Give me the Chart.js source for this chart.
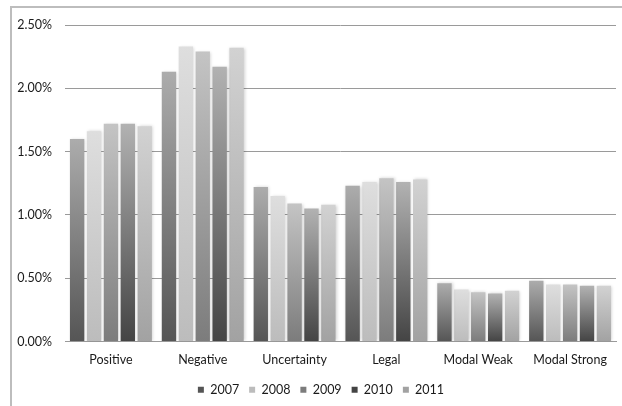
<!DOCTYPE html>
<html>
<head>
<meta charset="utf-8">
<script src="https://cdn.jsdelivr.net/npm/chart.js@4/dist/chart.umd.min.js"></script>
<style>
  html, body { margin: 0; padding: 0; background: #fff; }
  #wrap { position: relative; width: 622px; height: 406px; overflow: hidden; }
  #frame { position: absolute; left: 10px; top: 6px; width: 700px; height: 500px;
           border-top: 2px solid #bdbdbd; border-left: 2px solid #bdbdbd; box-sizing: border-box; }
  canvas { position: absolute; left: 0; top: 0; }
</style>
</head>
<body>
<div id="wrap">
  <div id="frame"></div>
  <canvas id="chart" width="622" height="406"></canvas>
</div>
<script>
// Share of words per sentiment category, by year (percent)
const categories = ['Positive', 'Negative', 'Uncertainty', 'Legal', 'Modal Weak', 'Modal Strong'];
const years = ['2007', '2008', '2009', '2010', '2011'];
const values2007 = [1.60, 2.13, 1.22, 1.23, 0.46, 0.48];
const values2008 = [1.66, 2.33, 1.15, 1.26, 0.41, 0.45];
const values2009 = [1.72, 2.29, 1.09, 1.29, 0.39, 0.45];
const values2010 = [1.72, 2.17, 1.05, 1.26, 0.38, 0.44];
const values2011 = [1.70, 2.32, 1.08, 1.28, 0.40, 0.44];
const yTicks = [0, 0.5, 1.0, 1.5, 2.0, 2.5];

// bottom / top colours of each series' vertical gradient
const shades = [
  ['#555555', '#acacac'],
  ['#bcbcbc', '#dedede'],
  ['#7c7c7c', '#c4c4c4'],
  ['#444444', '#b2b2b2'],
  ['#a2a2a2', '#d2d2d2']
];
const seriesValues = [values2007, values2008, values2009, values2010, values2011];

function mix(a, b) {
  const pa = parseInt(a.slice(1), 16), pb = parseInt(b.slice(1), 16);
  const r = ((pa >> 16) + (pb >> 16)) >> 1;
  const g = (((pa >> 8) & 255) + ((pb >> 8) & 255)) >> 1;
  const bl = ((pa & 255) + (pb & 255)) >> 1;
  return 'rgb(' + r + ',' + g + ',' + bl + ')';
}

function barFill(i) {
  const [lo, hi] = shades[i];
  return (ctx) => {
    const chart = ctx.chart;
    if (ctx.type !== 'data' || !chart.chartArea || !chart.scales.y) return mix(lo, hi);
    const y = chart.scales.y;
    const base = y.getPixelForValue(0);
    const top = y.getPixelForValue(ctx.raw);
    if (!isFinite(base) || !isFinite(top) || base === top) return mix(lo, hi);
    const g = chart.ctx.createLinearGradient(0, base, 0, top);
    g.addColorStop(0, lo);
    g.addColorStop(1, hi);
    return g;
  };
}

// soft drop shadow behind the bars
const barShadow = {
  id: 'barShadow',
  beforeDatasetsDraw(chart) {
    const c = chart.ctx;
    c.save();
    c.shadowColor = 'rgba(0,0,0,0.18)';
    c.shadowBlur = 3;
    c.shadowOffsetX = 1;
    c.shadowOffsetY = 0;
  },
  afterDatasetsDraw(chart) { chart.ctx.restore(); }
};

// the legend row is centred on the framed panel, not on the whole canvas
const legendOffset = {
  id: 'legendOffset',
  afterLayout(chart) {
    const l = chart.legend;
    if (l) { l.left = 26; l.width = l.right - l.left; }
  }
};

const font = "Lato, 'Open Sans', sans-serif";

new Chart(document.getElementById('chart'), {
  type: 'bar',
  data: {
    labels: categories,
    datasets: years.map((yr, i) => ({
      label: yr,
      data: seriesValues[i],
      backgroundColor: barFill(i),
      borderWidth: 0,
      barPercentage: 0.85,
      categoryPercentage: 0.92
    }))
  },
  plugins: [barShadow, legendOffset],
  options: {
    responsive: false,
    animation: false,
    devicePixelRatio: 1,
    layout: { padding: { top: 25, right: 6, left: 0, bottom: 0 } },
    plugins: {
      tooltip: { enabled: false },
      legend: {
        position: 'bottom',
        labels: {
          boxWidth: 6, boxHeight: 6, padding: 10,
          color: '#1a1a1a',
          font: { family: font, size: 12.5 }
        }
      }
    },
    scales: {
      x: {
        afterFit(scale) { scale.height = 32; },
        grid: { display: false, drawTicks: false },
        border: { display: true, color: '#9a9a9a', width: 1 },
        ticks: { color: '#1a1a1a', padding: 11, font: { family: font, size: 12.5 } }
      },
      y: {
        min: 0, max: 2.5,
        afterBuildTicks(scale) { scale.ticks = yTicks.map(v => ({ value: v })); },
        afterFit(scale) { scale.width = 65; },
        grid: { color: '#9a9a9a', lineWidth: 1, drawTicks: false },
        border: { display: false },
        ticks: {
          color: '#1a1a1a', padding: 13,
          font: { family: font, size: 12.5 },
          callback: (v) => v.toFixed(2) + '%'
        }
      }
    }
  }
});
</script>
</body>
</html>
